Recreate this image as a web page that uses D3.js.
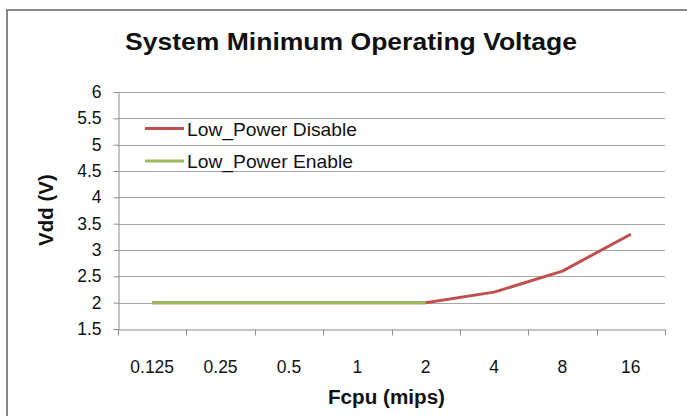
<!DOCTYPE html>
<html>
<head>
<meta charset="utf-8">
<script src="https://cdn.jsdelivr.net/npm/d3@7"></script>
<style>
  html, body { margin: 0; padding: 0; background: #fff; }
  svg { display: block; font-family: "Liberation Sans", Arial, sans-serif; }
</style>
</head>
<body>
<svg id="chart" width="687" height="416"></svg>
<script>
// Clock frequency categories (mips)
const categories = ["0.125", "0.25", "0.5", "1", "2", "4", "8", "16"];
// Minimum Vdd per frequency
const lowPowerDisable = [2, 2, 2, 2, 2, 2.2, 2.6, 3.3];
const lowPowerEnable  = [2, 2, 2, 2, 2, null, null, null];
const yTicks = [1.5, 2, 2.5, 3, 3.5, 4, 4.5, 5, 5.5, 6];

const series = [
  { name: "Low_Power Disable", values: lowPowerDisable, color: "#C0504D", width: 170 },
  { name: "Low_Power Enable",  values: lowPowerEnable,  color: "#9BBB59", width: 166 }
];

const svg = d3.select("#chart");
const plot = { left: 118, right: 665, top: 92, bottom: 329 };
const font = "Liberation Sans, Arial, sans-serif";

// Outer chart frame
svg.append("rect")
  .attr("x", 7).attr("y", 10)
  .attr("width", 700).attr("height", 420)
  .attr("fill", "#fff")
  .attr("stroke", "#878787").attr("stroke-width", 2);

const x = d3.scaleBand().domain(categories).range([plot.left, plot.right]);
const y = d3.scaleLinear().domain([1.5, 6]).range([plot.bottom, plot.top]);

// Horizontal gridlines
svg.append("g")
  .selectAll("line")
  .data(yTicks.slice(1))
  .join("line")
  .attr("x1", plot.left).attr("x2", plot.right)
  .attr("y1", d => Math.round(y(d)) + 0.5).attr("y2", d => Math.round(y(d)) + 0.5)
  .attr("stroke", "#a6a6a6").attr("stroke-width", 1.2);

// Y axis
const yAxis = svg.append("g")
  .attr("transform", `translate(${plot.left + 0.5},0)`)
  .call(d3.axisLeft(y).tickValues(yTicks).tickSize(5).tickPadding(12).tickFormat(d3.format("")));
yAxis.select(".domain").attr("stroke", "#8c8c8c");
yAxis.selectAll(".tick line").attr("stroke", "#8c8c8c");
yAxis.selectAll("text").attr("font-size", 17.5).attr("fill", "#111").attr("font-family", font);

// X axis with ticks between categories
const xAxis = svg.append("g")
  .attr("transform", `translate(0,${Math.round(plot.bottom) + 0.5})`)
  .call(d3.axisBottom(x).tickSize(0).tickPadding(31));
xAxis.select(".domain").attr("stroke", "#8c8c8c");
xAxis.selectAll("text").attr("font-size", 17.5).attr("fill", "#111").attr("font-family", font);
const boundaries = categories.map(c => x(c)).concat([x(categories[categories.length - 1]) + x.bandwidth()]);
xAxis.selectAll(".sep")
  .data(boundaries)
  .join("line")
  .attr("class", "sep")
  .attr("x1", d => Math.round(d) + 0.5).attr("x2", d => Math.round(d) + 0.5)
  .attr("y1", 0).attr("y2", 6)
  .attr("stroke", "#8c8c8c");

// Series lines
const line = d3.line()
  .defined(d => d.v != null)
  .x(d => x(d.c) + x.bandwidth() / 2)
  .y(d => y(d.v));

series.forEach(s => {
  svg.append("path")
    .datum(categories.map((c, i) => ({ c, v: s.values[i] })))
    .attr("fill", "none")
    .attr("stroke", s.color)
    .attr("stroke-width", 3)
    .attr("stroke-linejoin", "round")
    .attr("d", line);
});

// Legend
const legend = svg.append("g").attr("transform", "translate(145,128.5)");
series.forEach((s, i) => {
  const g = legend.append("g").attr("transform", `translate(0,${i * 32.5})`);
  g.append("line")
    .attr("x1", 0).attr("x2", 39).attr("y1", 0).attr("y2", 0)
    .attr("stroke", s.color).attr("stroke-width", 3);
  g.append("text")
    .attr("x", 42).attr("y", 7)
    .attr("font-size", 18.5).attr("fill", "#111")
    .attr("textLength", s.width).attr("lengthAdjust", "spacingAndGlyphs")
    .text(s.name);
});

// Titles
svg.append("text")
  .attr("x", 125).attr("y", 49.5)
  .attr("font-size", 24).attr("font-weight", "bold").attr("fill", "#111")
  .attr("textLength", 452).attr("lengthAdjust", "spacingAndGlyphs")
  .text("System Minimum Operating Voltage");

svg.append("text")
  .attr("x", 328).attr("y", 404)
  .attr("font-size", 20).attr("font-weight", "bold").attr("fill", "#111")
  .attr("textLength", 117).attr("lengthAdjust", "spacingAndGlyphs")
  .text("Fcpu (mips)");

svg.append("text")
  .attr("transform", "translate(53,210) rotate(-90)")
  .attr("text-anchor", "middle")
  .attr("font-size", 20.5).attr("font-weight", "bold").attr("fill", "#111")
  .text("Vdd (V)");
</script>
</body>
</html>
